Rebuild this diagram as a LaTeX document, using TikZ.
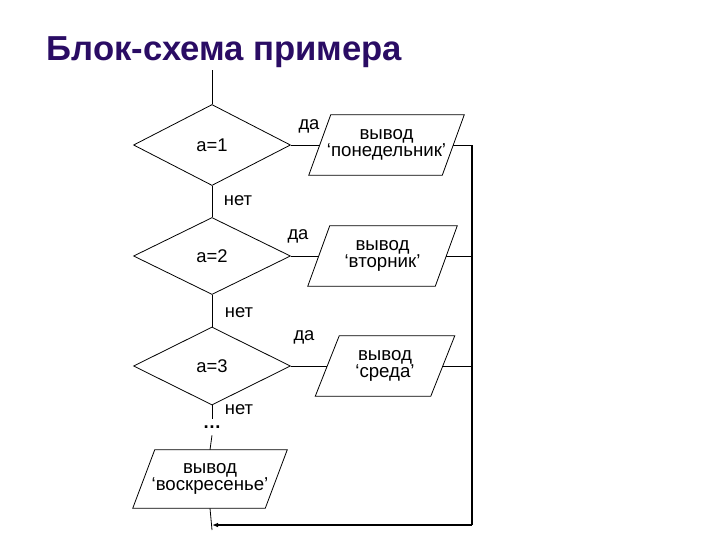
\documentclass[tikz,border=0pt]{standalone}
\usepackage{fontspec}
\setmainfont{Liberation Sans}
\usetikzlibrary{shapes.geometric,arrows.meta,calc}
\definecolor{titlec}{RGB}{42,12,100}
\begin{document}
\begin{tikzpicture}[x=0.75pt,y=-0.75pt,
  every node/.style={font=\fontsize{13.8}{14.5}\selectfont},
  conn/.style={draw=black,line width=0.6pt},
  back/.style={draw=black,line width=1.1pt},
  cond/.style={diamond,draw=black,line width=0.6pt,inner sep=0pt,minimum width=117.75pt},
  outbox/.style={rectangle,inner sep=0pt,minimum height=45pt,align=center,
    font=\fontsize{14}{13}\selectfont},
  lbl/.style={inner sep=1pt}]
\useasboundingbox (0,0) rectangle (720,540);
\node[anchor=base west,text=titlec,font=\fontsize{26}{30}\selectfont\bfseries] (title) at (42,60) {Блок-схема примера};

\node[cond,minimum height=60.75pt] (d1) at (212,145) {а=1};
\node[cond,minimum height=57.75pt] (d2) at (212,256) {а=2};
\node[cond,minimum height=58.5pt] (d3) at (212,366) {а=3};

\node[outbox,minimum width=99.75pt] (p1) at (386.5,145) {вывод\\‘понедельник’};
\node[outbox,minimum width=95.25pt] (p2) at (382.5,256) {вывод\\‘вторник’};
\node[outbox,minimum width=86.25pt] (p3) at (385,366) {вывод\\‘среда’};
\node[outbox,minimum width=99pt,minimum height=43.5pt] (p4) at (210,479) {вывод\\‘воскресенье’};

\draw[conn] ($(p1.north west)+(11,0)$) -- ($(p1.north east)+(11,0)$)
  -- ($(p1.south east)+(-11,0)$) -- ($(p1.south west)+(-11,0)$) -- cycle;
\draw[conn] ($(p2.north west)+(11,0)$) -- ($(p2.north east)+(11,0)$)
  -- ($(p2.south east)+(-11,0)$) -- ($(p2.south west)+(-11,0)$) -- cycle;
\draw[conn] ($(p3.north west)+(12,0)$) -- ($(p3.north east)+(12,0)$)
  -- ($(p3.south east)+(-12,0)$) -- ($(p3.south west)+(-12,0)$) -- cycle;
\draw[conn] ($(p4.north west)+(11,0)$) -- ($(p4.north east)+(11,0)$)
  -- ($(p4.south east)+(-11,0)$) -- ($(p4.south west)+(-11,0)$) -- cycle;

\node[inner sep=0pt,minimum height=12pt] (dots) at (212,427) {\textbf{…}};

\node[lbl] (y1) at (309,126) {да};
\node[lbl] (y2) at (298,236) {да};
\node[lbl] (y3) at (304,337) {да};
\node[lbl] (n1) at (238,201) {нет};
\node[lbl] (n2) at (239,313) {нет};
\node[lbl] (n3) at (239,410) {нет};

\coordinate (top) at (212,70);
\coordinate (r1) at (472,145);
\coordinate (r2) at (472,256);
\coordinate (r3) at (472,366);
\coordinate (rb) at (472,525);
\coordinate (ae) at (212,525);
\coordinate (bot) at (212,530);

\draw[conn] (top) -- (d1.north);
\draw[conn] (d1.south) -- (d2.north);
\draw[conn] (d2.south) -- (d3.north);
\draw[conn] (d3.south) -- (dots.north);
\draw[conn] (dots.south) -- (p4.north);
\draw[conn] (p4.south) -- (bot);
\draw[conn] (d1.east) -- (p1.west);
\draw[conn] (d2.east) -- (p2.west);
\draw[conn] (d3.east) -- (p3.west);
\draw[conn] (p1.east) -- (r1);
\draw[conn] (p2.east) -- (r2);
\draw[conn] (p3.east) -- (r3);
\draw[back] (r1) -- (rb);
\draw[back,-{Latex[length=4.5pt,width=3.5pt]}] (rb) -- (ae);
\end{tikzpicture}
\end{document}
